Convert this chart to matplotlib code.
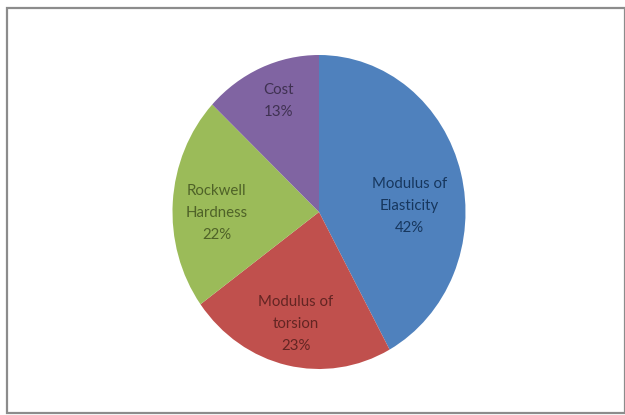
import matplotlib
matplotlib.use("Agg")
import matplotlib.pyplot as plt
import numpy as np

labels = ["Modulus of\nElasticity", "Modulus of\ntorsion", "Rockwell\nHardness", "Cost"]
values = [42, 23, 22, 13]
colors = ["#4F81BD", "#C0504D", "#9BBB59", "#8064A2"]
text_colors = ["#17375E", "#632523", "#4F6228", "#3F3151"]
label_r = [0.62, 0.73, 0.70, 0.76]      # radial spot of each label
label_shift = [-11, 0, 4, -2]           # degrees, Excel "best fit" nudges

plt.rcParams['font.family'] = ['Lato', 'DejaVu Sans']

W, H = 625, 415
fig = plt.figure(figsize=(W / 100, H / 100), dpi=100)
fig.patch.set_facecolor("white")

# chart border
fig.add_artist(plt.Rectangle((6.5 / W, 2.0 / H), 618.0 / W, 405.0 / H,
                             transform=fig.transFigure, fill=False,
                             edgecolor="#8c8c8c", linewidth=1.6))

# pie is drawn as an ellipse (stretched vertically)
cx, cy, rx, ry = 319, H - 212, 146.5, 157
ax = fig.add_axes([(cx - rx) / W, (cy - ry) / H, 2 * rx / W, 2 * ry / H])
wedges, _ = ax.pie(values, colors=colors, startangle=90, counterclock=False,
                   radius=1, wedgeprops=dict(linewidth=0))
ax.set_aspect("auto")
ax.set_xlim(-1, 1)
ax.set_ylim(-1, 1)
ax.axis("off")

for w, lab, v, r, sh, tc in zip(wedges, labels, values, label_r, label_shift, text_colors):
    ang = np.radians((w.theta1 + w.theta2) / 2 + sh)
    ax.text(r * np.cos(ang), r * np.sin(ang), f"{lab}\n{v}%", ha="center", va="center",
            fontsize=10.8, color=tc, linespacing=1.75)

fig.savefig("out.png", dpi=100)
